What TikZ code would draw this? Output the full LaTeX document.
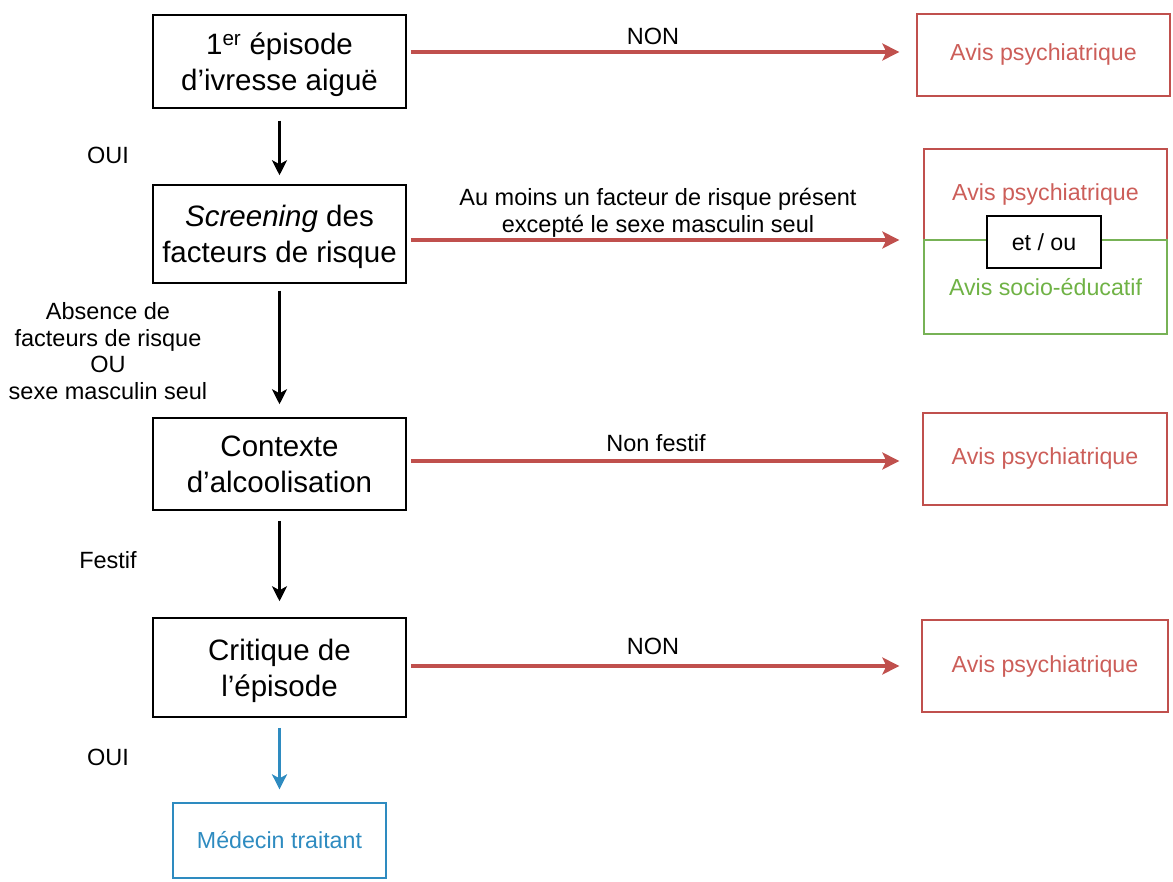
\documentclass[tikz,border=0pt]{standalone}
\usepackage{fontspec}
\setmainfont{Liberation Sans}
\usetikzlibrary{arrows.meta}
\definecolor{redline}{HTML}{C0504D}
\definecolor{redtext}{HTML}{CC5E59}
\definecolor{greenline}{HTML}{77B256}
\definecolor{greentext}{HTML}{6FB245}
\definecolor{blueline}{HTML}{2E8BC0}
\definecolor{bluetext}{HTML}{2E8BC0}
\tikzset{
  mainbox/.style={draw=black, line width=1.5pt, minimum width=253pt, inner sep=0pt, align=center,
    text depth=0pt, font=\fontsize{29.5}{36}\selectfont},
  avisbox/.style={draw=redline, line width=1.3pt, inner sep=0pt, align=center, text=redtext,
    font=\fontsize{23.2}{27}\selectfont},
  greenbox/.style={draw=greenline, line width=1.3pt, inner sep=0pt, align=center, text=greentext,
    font=\fontsize{23.2}{27}\selectfont},
  bluebox/.style={draw=blueline, line width=1.3pt, inner sep=0pt, align=center, text=bluetext,
    font=\fontsize{23.2}{27}\selectfont},
  lbl/.style={align=center, inner sep=0pt, font=\fontsize{23.5}{26.5}\selectfont},
  blackarrow/.style={draw=black, line width=2.8pt, -{Stealth[length=15pt,width=15pt,inset=4pt]}},
  redarrow/.style={draw=redline, line width=3.4pt, -{Stealth[length=17pt,width=17pt,inset=4pt]}},
  bluearrow/.style={draw=blueline, line width=3pt, -{Stealth[length=15pt,width=15pt,inset=4pt]}},
}
\begin{document}
\begin{tikzpicture}[x=1pt,y=-1pt]
\useasboundingbox (0,0) rectangle (1173,882);
% left column
\node[mainbox, minimum height=93pt] (b1) at (279.5,61.5) {1\textsuperscript{er} épisode\\d’ivresse aiguë};
\node[mainbox, minimum height=98pt] (b2) at (279.5,234) {\textit{Screening} des\\facteurs de risque};
\node[mainbox, minimum height=92pt] (b3) at (279.5,464) {Contexte\\d’alcoolisation};
\node[mainbox, minimum height=99pt] (b4) at (279.5,667.5) {Critique de\\l’épisode};
\node[bluebox, minimum width=213pt, minimum height=75pt] (med) at (279.5,840.5) {Médecin traitant};
% right column
\node[avisbox, minimum width=253pt, minimum height=82pt] (a1) at (1043.5,55) {Avis psychiatrique};
\node[avisbox, minimum width=243pt, minimum height=91pt] (a2) at (1045.5,194.5) {Avis psychiatrique};
\node[greenbox, minimum width=243pt, minimum height=94pt] (g2) at (1045.5,287) {Avis socio-éducatif};
\node[draw=black, line width=1.5pt, fill=white, minimum width=114pt, minimum height=52pt, inner sep=0pt,
  font=\fontsize{23.2}{27}\selectfont] (eo) at (1044,242) {et / ou};
\node[avisbox, minimum width=244pt, minimum height=92pt] (a3) at (1045,459) {Avis psychiatrique};
\node[avisbox, minimum width=246pt, minimum height=92pt] (a4) at (1045,666) {Avis psychiatrique};
% vertical arrows
\draw[blackarrow, shorten <=12pt, shorten >=9pt] (b1.south) -- (b2.north);
\draw[blackarrow, shorten <=7pt, shorten >=13pt] (b2.south) -- (b3.north);
\draw[blackarrow, shorten <=10pt, shorten >=16pt] (b3.south) -- (b4.north);
\draw[bluearrow, shorten <=10pt, shorten >=13pt] (b4.south) -- (med.north);
% horizontal arrows
\draw[redarrow, shorten <=4pt, shorten >=17pt] ([yshift=9.5pt]b1.east) -- ([yshift=9.5pt]b1.east -| a1.west);
\draw[redarrow, shorten <=4pt, shorten >=24pt] ([yshift=-6pt]b2.east) -- ([yshift=-6pt]b2.east -| a2.west);
\draw[redarrow, shorten <=4pt, shorten >=23pt] ([yshift=3pt]b3.east) -- ([yshift=3pt]b3.east -| a3.west);
\draw[redarrow, shorten <=4pt, shorten >=22pt] ([yshift=1.5pt]b4.east) -- ([yshift=1.5pt]b4.east -| a4.west);
% labels
\node[lbl] (l1) at (653,36) {NON};
\node[lbl] (l2) at (658,213) {Au moins un facteur de risque présent\\excepté le sexe masculin seul};
\node[lbl] (l3) at (656,443) {Non festif};
\node[lbl] (l4) at (653,646) {NON};
\node[lbl] (o1) at (108,155) {OUI};
\node[lbl] (o2) at (108,351) {Absence de\\facteurs de risque\\OU\\sexe masculin seul};
\node[lbl] (o3) at (108,560) {Festif};
\node[lbl] (o4) at (108,757) {OUI};
\end{tikzpicture}
\end{document}
